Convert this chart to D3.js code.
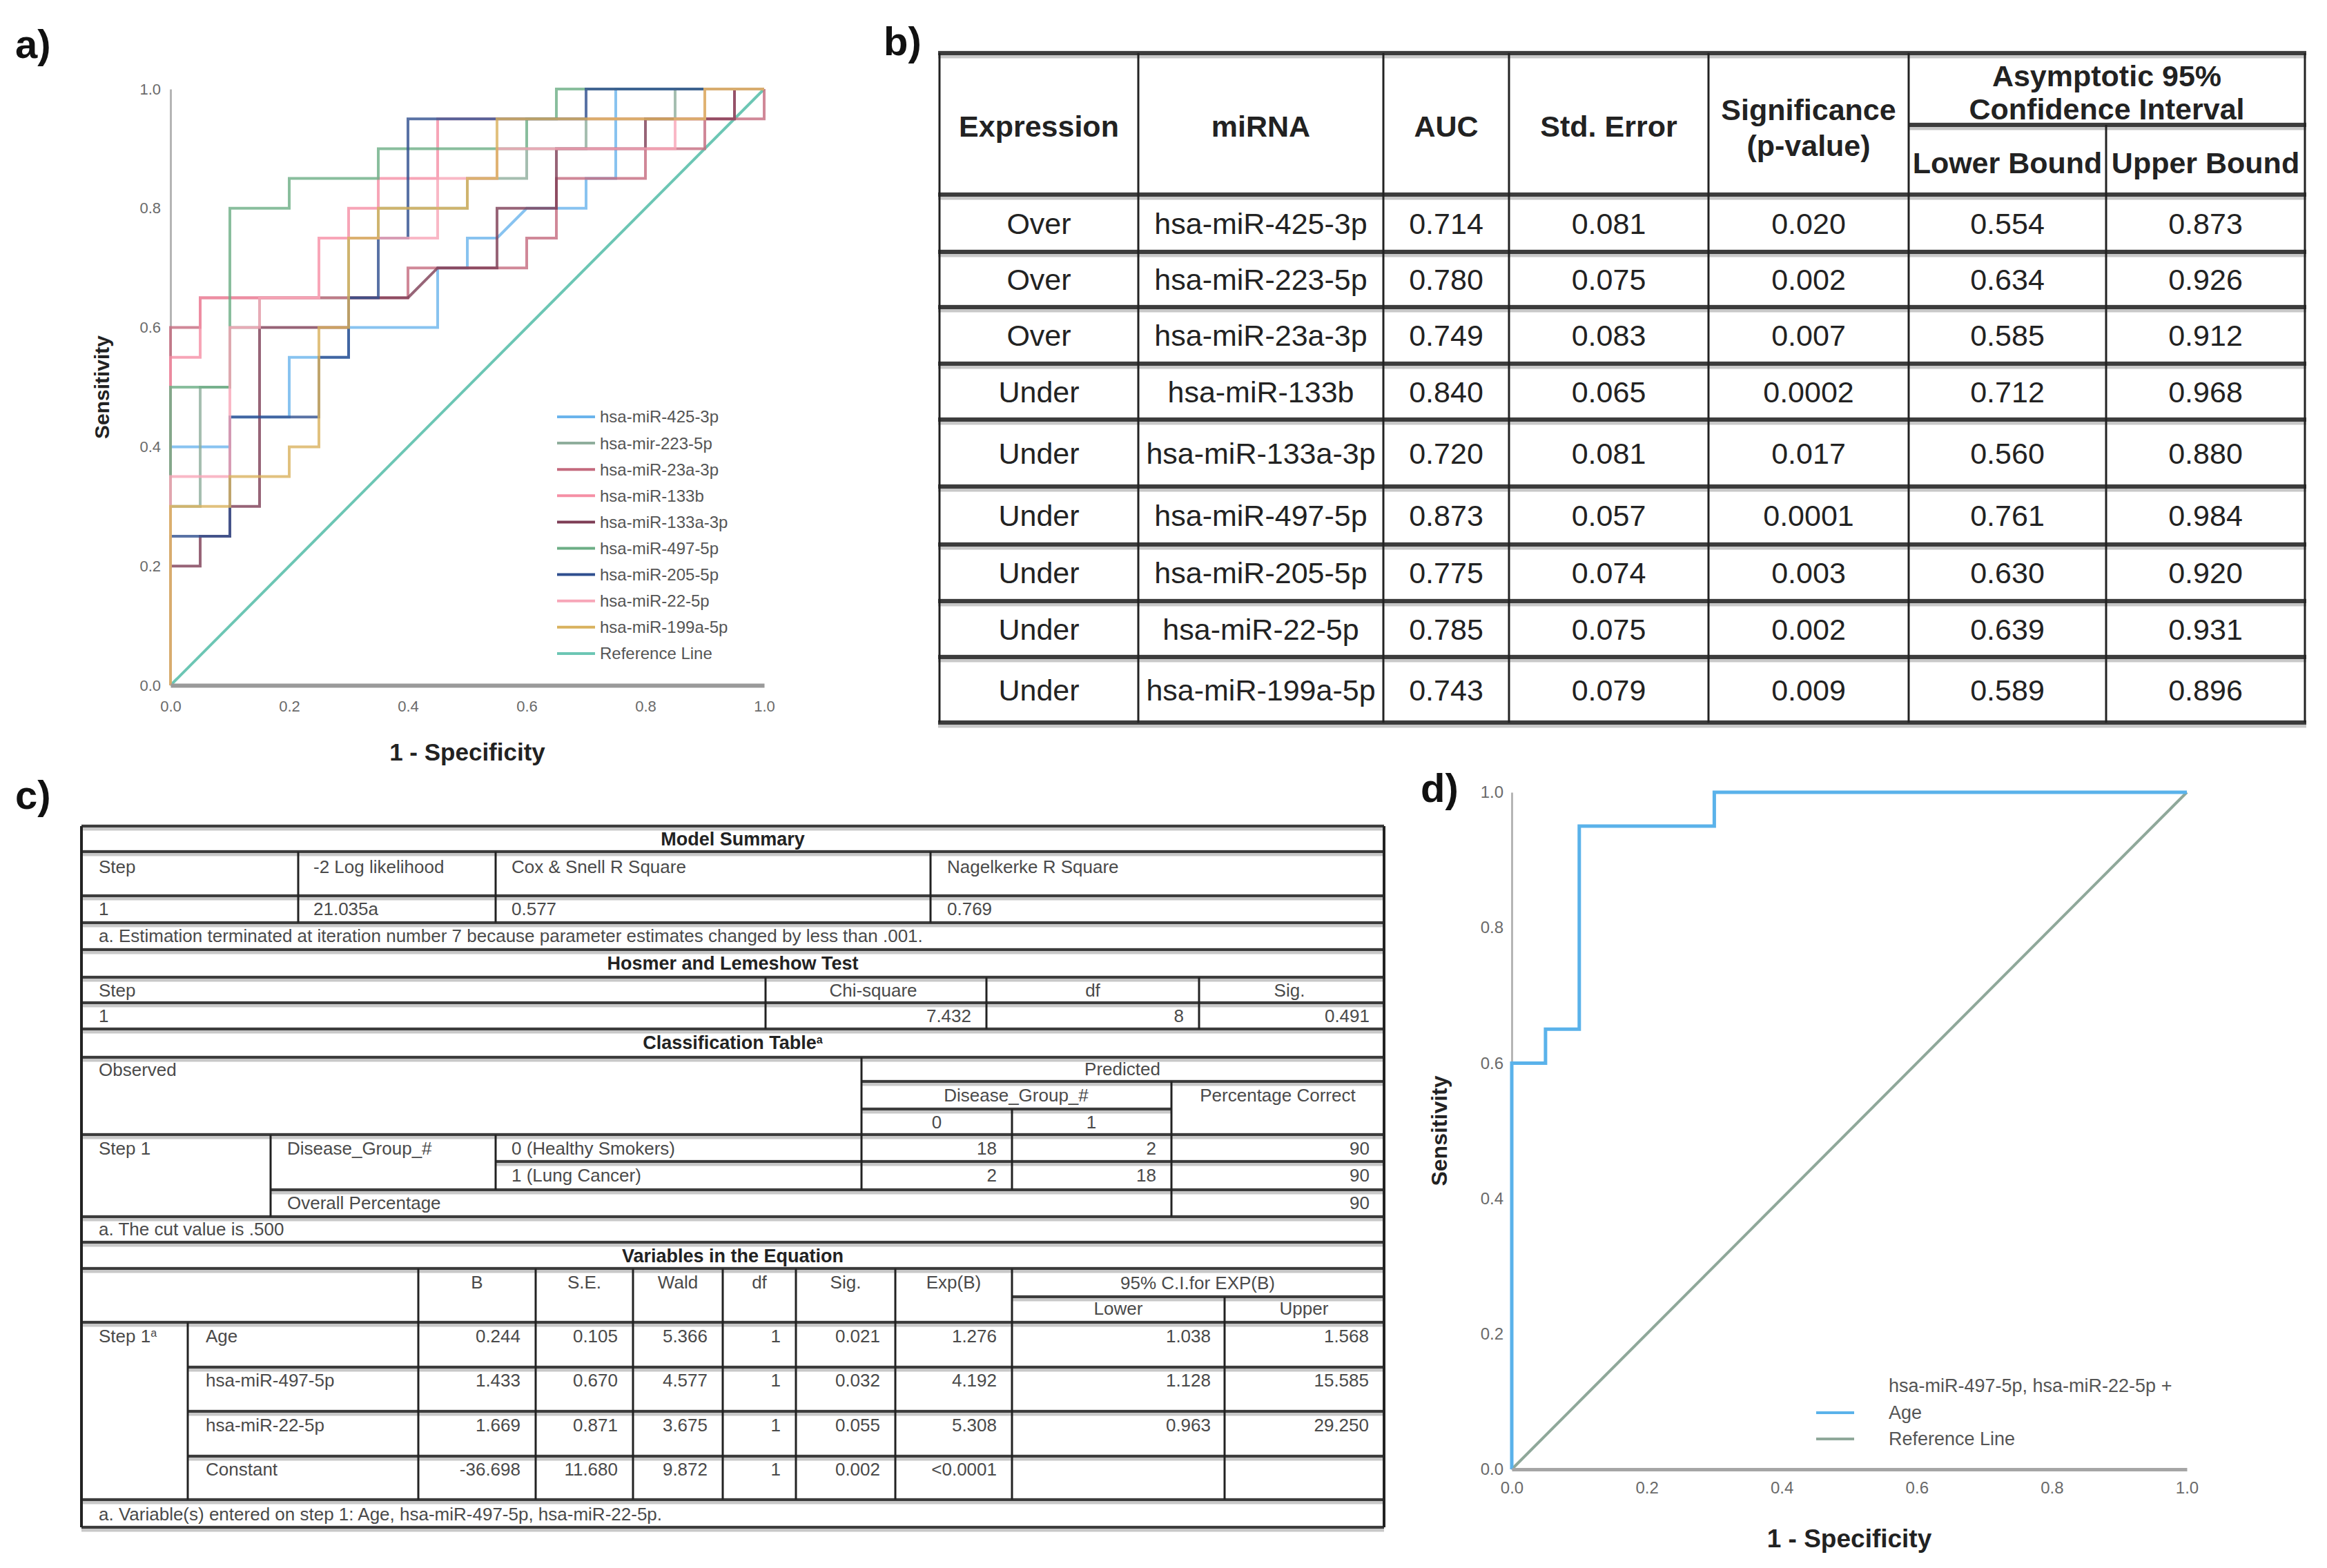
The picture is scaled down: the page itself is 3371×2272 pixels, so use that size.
<!DOCTYPE html>
<html><head><meta charset="utf-8">
<script src="https://cdn.jsdelivr.net/npm/d3@7"></script>
<style>body{margin:0;background:#fff}svg{display:block}text{font-family:"Liberation Sans",Arial,sans-serif}</style>
</head><body>
<svg id="fig" width="3371" height="2272"></svg>
<script>
// ---------------- DATA ----------------
// Panel a: ROC curves (1 - specificity, sensitivity)
const rocNames = ["hsa-miR-425-3p","hsa-mir-223-5p","hsa-miR-23a-3p","hsa-miR-133b","hsa-miR-133a-3p","hsa-miR-497-5p","hsa-miR-205-5p","hsa-miR-22-5p","hsa-miR-199a-5p"];
const rocColors = ["#6ab4ec","#8fae9c","#c46a7e","#f58fa5","#7d3d55","#6cae85","#2f4f8f","#f7a6b8","#d9b25e"];
const roc425 = [[0,0],[0,.4],[.1,.4],[.1,.45],[.2,.45],[.2,.55],[.3,.55],[.3,.6],[.45,.6],[.45,.7],[.5,.7],[.5,.75],[.55,.75],[.6,.8],[.7,.8],[.7,.85],[.75,.85],[.75,1],[1,1]];
const roc223 = [[0,0],[0,.3],[.05,.3],[.05,.5],[.1,.5],[.1,.6],[.15,.6],[.15,.65],[.3,.65],[.3,.75],[.35,.75],[.35,.8],[.5,.8],[.5,.85],[.6,.85],[.6,.9],[.7,.9],[.7,.95],[.85,.95],[.85,1],[1,1]];
const roc23a = [[0,0],[0,.6],[.05,.6],[.05,.65],[.4,.65],[.4,.7],[.6,.7],[.6,.75],[.65,.75],[.65,.85],[.8,.85],[.8,.9],[.9,.9],[.9,.95],[1,.95],[1,1]];
const roc133b = [[0,0],[0,.55],[.05,.55],[.05,.65],[.25,.65],[.25,.75],[.3,.75],[.3,.8],[.35,.8],[.35,.85],[.45,.85],[.45,.95],[.95,.95],[.95,1],[1,1]];
const roc133a = [[0,0],[0,.2],[.05,.2],[.05,.25],[.1,.25],[.1,.3],[.15,.3],[.15,.6],[.3,.6],[.3,.65],[.4,.65],[.45,.7],[.55,.7],[.55,.8],[.65,.8],[.65,.9],[.8,.9],[.8,.95],[.95,.95],[.95,1],[1,1]];
const roc497 = [[0,0],[0,.5],[.1,.5],[.1,.8],[.2,.8],[.2,.85],[.35,.85],[.35,.9],[.6,.9],[.6,.95],[.65,.95],[.65,1],[1,1]];
const roc205 = [[0,0],[0,.25],[.1,.25],[.1,.45],[.25,.45],[.25,.55],[.3,.55],[.3,.65],[.35,.65],[.35,.75],[.4,.75],[.4,.95],[.7,.95],[.7,1],[1,1]];
const roc22 = [[0,0],[0,.35],[.1,.35],[.1,.6],[.15,.6],[.15,.65],[.25,.65],[.25,.75],[.45,.75],[.45,.85],[.55,.85],[.55,.9],[.85,.9],[.85,.95],[.9,.95],[.9,1],[1,1]];
const roc199a = [[0,0],[0,.3],[.1,.3],[.1,.35],[.2,.35],[.2,.4],[.25,.4],[.25,.6],[.3,.6],[.3,.75],[.35,.75],[.35,.8],[.5,.8],[.5,.85],[.55,.85],[.55,.95],[.9,.95],[.9,1],[1,1]];
const rocCurves = [roc425,roc223,roc23a,roc133b,roc133a,roc497,roc205,roc22,roc199a];
const refLine = [[0,0],[1,1]];
const refName = "Reference Line";
const axisTicks = [0,0.2,0.4,0.6,0.8,1.0];

// Panel b: AUC table
const bHeaderExpr = "Expression", bHeaderMirna = "miRNA", bHeaderAuc = "AUC", bHeaderSe = "Std. Error";
const bHeaderSig = ["Significance","(p-value)"];
const bHeaderCI = ["Asymptotic 95%","Confidence Interval"];
const bHeaderBounds = ["Lower Bound","Upper Bound"];
const bExpression = ["Over","Over","Over","Under","Under","Under","Under","Under","Under"];
const bMirna = ["hsa-miR-425-3p","hsa-miR-223-5p","hsa-miR-23a-3p","hsa-miR-133b","hsa-miR-133a-3p","hsa-miR-497-5p","hsa-miR-205-5p","hsa-miR-22-5p","hsa-miR-199a-5p"];
const bAuc = ["0.714","0.780","0.749","0.840","0.720","0.873","0.775","0.785","0.743"];
const bSe = ["0.081","0.075","0.083","0.065","0.081","0.057","0.074","0.075","0.079"];
const bP = ["0.020","0.002","0.007","0.0002","0.017","0.0001","0.003","0.002","0.009"];
const bLower = ["0.554","0.634","0.585","0.712","0.560","0.761","0.630","0.639","0.589"];
const bUpper = ["0.873","0.926","0.912","0.968","0.880","0.984","0.920","0.931","0.896"];

// Panel c: logistic regression output
const msTitle = "Model Summary";
const msHeaders = ["Step","-2 Log likelihood","Cox & Snell R Square","Nagelkerke R Square"];
const msValues = ["1","21.035a","0.577","0.769"];
const msNote = "a. Estimation terminated at iteration number 7 because parameter estimates changed by less than .001.";
const hlTitle = "Hosmer and Lemeshow Test";
const hlHeaders = ["Step","Chi-square","df","Sig."];
const hlValues = ["1","7.432","8","0.491"];
const ctTitle = "Classification Table";
const ctObservedLabel = "Observed", ctPredictedLabel = "Predicted", ctGroupLabel = "Disease_Group_#", ctPctLabel = "Percentage Correct";
const ctGroups = ["0","1"];
const ctStep = "Step 1";
const ctObserved = ["0 (Healthy Smokers)","1 (Lung Cancer)"];
const ctPred0 = ["18","2"];
const ctPred1 = ["2","18"];
const ctPct = ["90","90"];
const ctOverallLabel = "Overall Percentage", ctOverall = "90";
const ctNote = "a. The cut value is .500";
const vTitle = "Variables in the Equation";
const vHeaders = ["B","S.E.","Wald","df","Sig.","Exp(B)"];
const vCIHeader = "95% C.I.for EXP(B)", vCISub = ["Lower","Upper"];
const vStep = "Step 1";
const vNames = ["Age","hsa-miR-497-5p","hsa-miR-22-5p","Constant"];
const vB = ["0.244","1.433","1.669","-36.698"];
const vSE = ["0.105","0.670","0.871","11.680"];
const vWald = ["5.366","4.577","3.675","9.872"];
const vDf = ["1","1","1","1"];
const vSig = ["0.021","0.032","0.055","0.002"];
const vExp = ["1.276","4.192","5.308","<0.0001"];
const vLower = ["1.038","1.128","0.963",""];
const vUpper = ["1.568","15.585","29.250",""];
const vNote = "a. Variable(s) entered on step 1: Age, hsa-miR-497-5p, hsa-miR-22-5p.";

// Panel d: combined ROC
const comboName = ["hsa-miR-497-5p, hsa-miR-22-5p +","Age"];
const comboRoc = [[0,0],[0,.6],[.05,.6],[.05,.65],[.1,.65],[.1,.95],[.3,.95],[.3,1],[1,1]];

// ---------------- DRAW ----------------
const svg = d3.select("#fig");
const FONT = '"Liberation Sans", Arial, sans-serif';
const fmt = d3.format(".1f");

function panelLabel(t, x, y){
  svg.append("text").attr("x",x).attr("y",y).attr("font-size",58).attr("font-weight","bold").attr("fill","#111").text(t);
}
panelLabel("a)",22,84); panelLabel("b)",1280,80); panelLabel("c)",22,1172); panelLabel("d)",2058,1162);

function styleAxis(g, domainColor, domainWidth, fs){
  g.select(".domain").attr("stroke",domainColor).attr("stroke-width",domainWidth);
  g.selectAll(".tick line").remove();
  g.selectAll("text").attr("font-size",fs).attr("fill","#6a6a6a").attr("font-family",FONT);
}

// ---- Panel a ----
const xA = d3.scaleLinear().domain([0,1]).range([247,1107]);
const yA = d3.scaleLinear().domain([0,1]).range([993,129]);
const gA = svg.append("g");
gA.append("g").attr("transform",`translate(${xA(0)},0)`)
  .call(d3.axisLeft(yA).tickValues(axisTicks).tickFormat(fmt).tickSize(0).tickSizeOuter(0).tickPadding(14))
  .call(g=>styleAxis(g,"#b5b5b5",3,22));
const lineA = d3.line().x(d=>xA(d[0])).y(d=>yA(d[1]));
gA.append("path").attr("d",lineA(refLine)).attr("fill","none").attr("stroke","#6cc6b4").attr("stroke-width",4);
rocCurves.forEach((c,i)=>{
  gA.append("path").attr("d",lineA(c)).attr("fill","none").attr("stroke",rocColors[i])
    .attr("stroke-width",4).attr("stroke-opacity",0.8).attr("stroke-linejoin","miter");
});
gA.append("g").attr("transform",`translate(0,${yA(0)})`)
  .call(d3.axisBottom(xA).tickValues(axisTicks).tickFormat(fmt).tickSize(0).tickSizeOuter(0).tickPadding(22))
  .call(g=>styleAxis(g,"#9a9a9a",6,22));
gA.append("text").attr("x",(xA(0)+xA(1))/2).attr("y",1102).attr("text-anchor","middle")
  .attr("font-size",35).attr("font-weight","bold").attr("fill","#222").text("1 - Specificity");
gA.append("text").attr("transform",`translate(158,${(yA(0)+yA(1))/2}) rotate(-90)`).attr("text-anchor","middle")
  .attr("font-size",30).attr("font-weight","bold").attr("fill","#222").text("Sensitivity");
// legend a
const legA = rocNames.concat([refName]);
const legAColors = rocColors.concat(["#6cc6b4"]);
legA.forEach((n,i)=>{
  const y = 604 + i*38.1;
  gA.append("line").attr("x1",807).attr("x2",862).attr("y1",y).attr("y2",y).attr("stroke",legAColors[i]).attr("stroke-width",4);
  gA.append("text").attr("x",869).attr("y",y).attr("dy","0.35em").attr("font-size",24).attr("fill","#555").text(n);
});

// ---- Panel b ----
const gB = svg.append("g");
const bCols = [1361,1649,2004,2186,2475,2765,3051,3339];
const bRows = [282,365,445,527,608,705,789,871,952,1047];
function hline(g,x1,x2,y,w,band){
  g.append("line").attr("x1",x1).attr("x2",x2).attr("y1",y+2).attr("y2",y+2).attr("stroke","#c8c8c8").attr("stroke-width",band);
  g.append("line").attr("x1",x1).attr("x2",x2).attr("y1",y).attr("y2",y).attr("stroke","#3c3c3c").attr("stroke-width",w);
}
function vline(g,x,y1,y2,w){
  g.append("line").attr("x1",x).attr("x2",x).attr("y1",y1).attr("y2",y2).attr("stroke","#222").attr("stroke-width",w);
}
[77].concat(bRows).forEach(y=>hline(gB,bCols[0]-2,bCols[7]+2,y,6,11));
hline(gB,bCols[5],bCols[7]+2,181,6,11);
bCols.forEach((x,i)=>vline(gB,x,i===6?181:77,1047,3));
function ctext(g,x,y,t,opt={}){
  return g.append("text").attr("x",x).attr("y",y).attr("dy","0.35em").attr("text-anchor",opt.anchor||"middle")
    .attr("font-size",opt.fs||43).attr("font-weight",opt.bold?"bold":"normal").attr("fill",opt.fill||"#222").text(t);
}
const mid = i=>(bCols[i]+bCols[i+1])/2;
ctext(gB,mid(0),183,bHeaderExpr,{bold:true});
ctext(gB,mid(1),183,bHeaderMirna,{bold:true});
ctext(gB,mid(2),183,bHeaderAuc,{bold:true});
ctext(gB,mid(3),183,bHeaderSe,{bold:true});
ctext(gB,mid(4),159,bHeaderSig[0],{bold:true});
ctext(gB,mid(4),211,bHeaderSig[1],{bold:true});
ctext(gB,(bCols[5]+bCols[7])/2,110,bHeaderCI[0],{bold:true});
ctext(gB,(bCols[5]+bCols[7])/2,158,bHeaderCI[1],{bold:true});
ctext(gB,mid(5),236,bHeaderBounds[0],{bold:true});
ctext(gB,mid(6),236,bHeaderBounds[1],{bold:true});
const bData = [bExpression,bMirna,bAuc,bSe,bP,bLower,bUpper];
bMirna.forEach((m,r)=>{
  const y=(bRows[r]+bRows[r+1])/2;
  bData.forEach((col,c)=>ctext(gB,mid(c),y,col[r]));
});

// ---- Panel c ----
const gC = svg.append("g");
const L=118, R=2005;
const fullH = [1197,1234,1298,1337,1376,1416,1453,1491,1532,1644,1763,1800,1838,1916,2173,2213];
fullH.forEach(y=>hline(gC,L,R,y,4,9));
hline(gC,718,R,1683,4,9); hline(gC,392,R,1724,4,9);
[1981,2045,2110].forEach(y=>hline(gC,272,R,y,4,9));
hline(gC,1248,R,1567,4,9); hline(gC,1248,1697,1607,4,9); hline(gC,1466,R,1879,4,9);
vline(gC,L,1197,2213,4); vline(gC,R,1197,2213,4);
[432,718,1348].forEach(x=>vline(gC,x,1234,1337,3));
[1109,1429,1737].forEach(x=>vline(gC,x,1416,1491,3));
vline(gC,1248,1532,1724,3); vline(gC,1466,1607,1724,3); vline(gC,1697,1567,1763,3);
vline(gC,392,1644,1763,3); vline(gC,718,1644,1724,3);
[606,776,917,1047,1153,1297,1466].forEach(x=>vline(gC,x,1838,2173,3));
vline(gC,1774,1879,2173,3); vline(gC,272,1916,2173,3);
const cs = {fs:26,fill:"#4a4a4a"};
const tl = (x,y,t)=>ctext(gC,x,y,t,Object.assign({anchor:"start"},cs));
const tr = (x,y,t)=>ctext(gC,x,y,t,Object.assign({anchor:"end"},cs));
const tc = (x,y,t)=>ctext(gC,x,y,t,cs);
const tt = (y,t)=>ctext(gC,(L+R)/2,y,t,{fs:27,bold:true,fill:"#222"});
tt(1216,msTitle);
[143,454,741,1372].forEach((x,i)=>{tl(x,1256,msHeaders[i]); tl(x,1317,msValues[i]);});
tl(143,1356,msNote);
tt(1396,hlTitle);
tl(143,1435,hlHeaders[0]); tc(1265,1435,hlHeaders[1]); tc(1583,1435,hlHeaders[2]); tc(1868,1435,hlHeaders[3]);
tl(143,1472,hlValues[0]); tr(1407,1472,hlValues[1]); tr(1715,1472,hlValues[2]); tr(1984,1472,hlValues[3]);
const ctT = tt(1511,ctTitle); ctT.append("tspan").attr("font-size",16).attr("dy","-0.5em").text("a");
tl(143,1550,ctObservedLabel); tc(1626,1549,ctPredictedLabel);
tc(1472,1587,ctGroupLabel); tc(1851,1587,ctPctLabel);
tc(1357,1626,ctGroups[0]); tc(1581,1626,ctGroups[1]);
tl(143,1664,ctStep); tl(416,1664,ctGroupLabel);
ctObserved.forEach((o,i)=>{
  const y = i===0?1664:1703;
  tl(741,y,o); tr(1444,y,ctPred0[i]); tr(1675,y,ctPred1[i]); tr(1984,y,ctPct[i]);
});
tl(416,1743,ctOverallLabel); tr(1984,1743,ctOverall);
tl(143,1781,ctNote);
tt(1820,vTitle);
const vColR = [776,917,1047,1153,1297,1466];
const vColL = [606,776,917,1047,1153,1297];
vHeaders.forEach((h,i)=>tc((vColL[i]+vColR[i])/2,1858,h));
tc(1735,1859,vCIHeader); tc(1620,1896,vCISub[0]); tc(1889,1896,vCISub[1]);
const vs = tl(143,1936,vStep); vs.append("tspan").attr("font-size",16).attr("dy","-0.5em").text("a");
const vCols = [vB,vSE,vWald,vDf,vSig,vExp];
vNames.forEach((n,r)=>{
  const y = 1936 + r*64.2;
  tl(298,y,n);
  vCols.forEach((col,c)=>tr(vColR[c]-22,y,col[r]));
  tr(1754,y,vLower[r]); tr(1983,y,vUpper[r]);
});
tl(143,2194,vNote);

// ---- Panel d ----
const xD = d3.scaleLinear().domain([0,1]).range([2190,3168]);
const yD = d3.scaleLinear().domain([0,1]).range([2129,1148]);
const gD = svg.append("g");
gD.append("g").attr("transform",`translate(${xD(0)},0)`)
  .call(d3.axisLeft(yD).tickValues(axisTicks).tickFormat(fmt).tickSize(0).tickSizeOuter(0).tickPadding(12))
  .call(g=>styleAxis(g,"#b5b5b5",3,24));
const lineD = d3.line().x(d=>xD(d[0])).y(d=>yD(d[1]));
gD.append("path").attr("d",lineD(refLine)).attr("fill","none").attr("stroke","#8fa89a").attr("stroke-width",4);
gD.append("path").attr("d",lineD(comboRoc)).attr("fill","none").attr("stroke","#5ab2ea").attr("stroke-width",5);
gD.append("g").attr("transform",`translate(0,${yD(0)})`)
  .call(d3.axisBottom(xD).tickValues(axisTicks).tickFormat(fmt).tickSize(0).tickSizeOuter(0).tickPadding(18))
  .call(g=>styleAxis(g,"#a5a5a5",5,24));
gD.append("text").attr("x",(xD(0)+xD(1))/2).attr("y",2242).attr("text-anchor","middle")
  .attr("font-size",37).attr("font-weight","bold").attr("fill","#222").text("1 - Specificity");
gD.append("text").attr("transform",`translate(2096,${(yD(0)+yD(1))/2}) rotate(-90)`).attr("text-anchor","middle")
  .attr("font-size",32).attr("font-weight","bold").attr("fill","#222").text("Sensitivity");
gD.append("text").attr("x",2736).attr("y",2008).attr("dy","0.35em").attr("font-size",27).attr("fill","#555").text(comboName[0]);
gD.append("text").attr("x",2736).attr("y",2047).attr("dy","0.35em").attr("font-size",27).attr("fill","#555").text(comboName[1]);
gD.append("text").attr("x",2736).attr("y",2085).attr("dy","0.35em").attr("font-size",27).attr("fill","#555").text(refName);
gD.append("line").attr("x1",2631).attr("x2",2686).attr("y1",2047).attr("y2",2047).attr("stroke","#5ab2ea").attr("stroke-width",4);
gD.append("line").attr("x1",2631).attr("x2",2686).attr("y1",2085).attr("y2",2085).attr("stroke","#8fa89a").attr("stroke-width",4);
</script>
</body></html>
